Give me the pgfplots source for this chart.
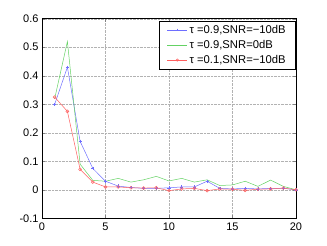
\documentclass[border=0pt]{standalone}
\usepackage{pgfplots}
\pgfplotsset{compat=1.18}
\usepackage{fontspec}
\setmainfont{Liberation Sans}
\definecolor{cb}{RGB}{110,110,255}
\definecolor{cg}{RGB}{100,210,100}
\definecolor{cr}{RGB}{255,95,95}
\begin{document}
\begin{tikzpicture}
\begin{axis}[
  scale only axis,
  width=254bp, height=199.6bp,
  xmin=0, xmax=20, ymin=-0.1, ymax=0.6,
  xtick={0,5,10,15,20},
  ytick={-0.1,0,0.1,0.2,0.3,0.4,0.5,0.6},
  yticklabel style={/pgf/number format/fixed,/pgf/number format/precision=1},
  /pgf/number format/assume math mode=true,
  tick label style={font=\fontsize{11}{13}\selectfont},
  xticklabel style={yshift=-1bp},
  tick align=inside,
  xtick pos=both, ytick pos=both,
  major tick length=3bp,
  grid=major,
  grid style={densely dotted, gray!60, line width=0.4pt},
  axis line style={line width=0.6pt},
  legend style={at={(1,0.99)}, anchor=north east, font=\fontsize{11.3}{13}\selectfont,
    line width=0.6pt, inner xsep=8bp, inner ysep=2bp, row sep=1.5bp,
    cells={anchor=west}, legend cell align=left,
    /tikz/every even column/.append style={column sep=2bp}},
  legend image code/.code={\draw[mark repeat=2,mark phase=2,mark size=1.2pt] plot coordinates {(0bp,0bp) (10bp,0bp) (20bp,0bp)};},
]
\addplot[cb, line width=0.5pt, mark=+, mark size=1.6pt] coordinates {
(1,0.30) (2,0.43) (3,0.17) (4,0.075) (5,0.03) (6,0.013) (7,0.008) (8,0.005) (9,0.005) (10,0.007)
(11,0.01) (12,0.01) (13,0.03) (14,0.005) (15,0.003) (16,0.005) (17,0.003) (18,0.005) (19,0.005) (20,0.0)};
\addlegendentry{τ =0.9,SNR=−10dB}
\addplot[cg, line width=0.5pt] coordinates {
(1,0.32) (2,0.52) (3,0.09) (4,0.033) (5,0.03) (6,0.04) (7,0.027) (8,0.035) (9,0.047) (10,0.031)
(11,0.04) (12,0.027) (13,0.035) (14,0.015) (15,0.017) (16,0.03) (17,0.012) (18,0.034) (19,0.012) (20,0.0)};
\addlegendentry{τ =0.9,SNR=0dB}
\addplot[cr, line width=0.5pt, mark=o, mark size=1.5pt] coordinates {
(1,0.325) (2,0.275) (3,0.072) (4,0.027) (5,0.01) (6,0.01) (7,0.007) (8,0.006) (9,0.007) (10,-0.003)
(11,0.003) (12,0.005) (13,-0.003) (14,0.003) (15,0.002) (16,-0.002) (17,0.002) (18,0.003) (19,0.006) (20,0.0)};
\addlegendentry{τ =0.1,SNR=−10dB}
\end{axis}
\path[use as bounding box] (-42bp,-27.7bp) rectangle (285bp,218.3bp);
\end{tikzpicture}
\end{document}
